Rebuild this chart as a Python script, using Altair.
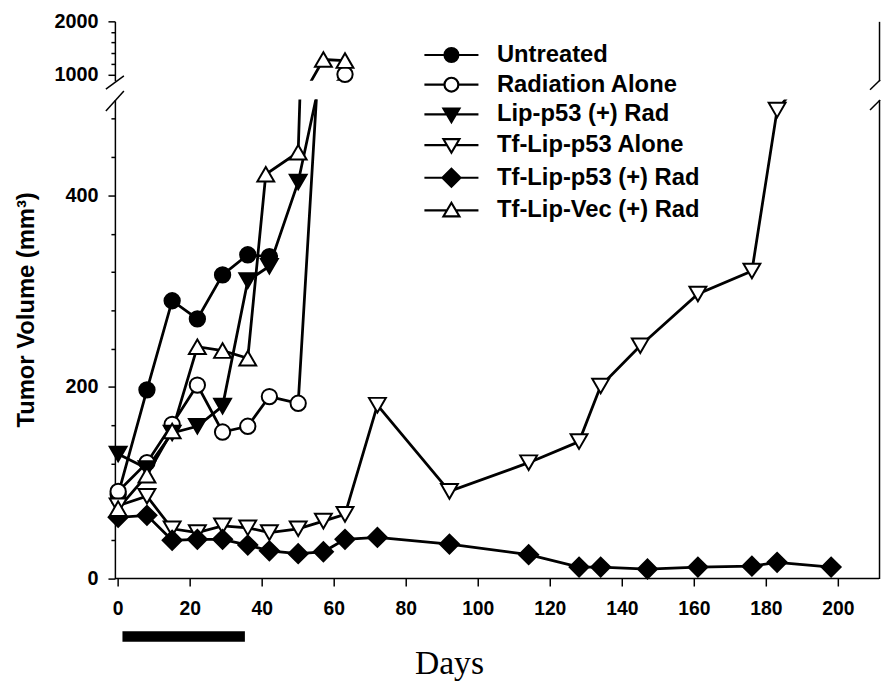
import altair as alt
import pandas as pd

# ---------------- data ----------------
names = ["Untreated", "Radiation Alone", "Lip-p53 (+) Rad",
         "Tf-Lip-p53 Alone", "Tf-Lip-p53 (+) Rad", "Tf-Lip-Vec (+) Rad"]

untreated_days = [0, 8, 15, 22, 29, 36, 42]
untreated_vol = [88, 197, 290, 271, 317, 338, 336]

radiation_days = [0, 8, 15, 22, 29, 36, 42, 50, 63]
radiation_vol = [91, 121, 161, 202, 153, 159, 190, 183, 1000]

lip_rad_days = [0, 8, 15, 22, 29, 36, 42, 50, 57]
lip_rad_vol = [130, 115, 152, 159, 180, 311, 326, 414, 537]

tf_alone_days = [0, 8, 15, 22, 29, 36, 42, 50, 57, 63, 72, 92, 114, 128, 134,
                 145, 161, 176, 183, 197]
tf_alone_vol = [76, 86, 52, 48, 55, 53, 48, 52, 60, 67, 181, 91, 121, 143, 201,
                243, 297, 321, 489, 555]

tf_rad_days = [0, 8, 15, 22, 29, 36, 42, 50, 57, 63, 72, 92, 114, 128, 134,
               147, 161, 176, 183, 198]
tf_rad_vol = [64, 66, 40, 41, 41, 35, 29, 26, 28, 41, 43, 36, 25, 12, 12,
              10, 12, 13, 17, 12]

vec_rad_days = [0, 8, 15, 22, 29, 36, 41, 50, 57, 63]
vec_rad_vol = [73, 108, 154, 242, 238, 230, 422, 445, 1280, 1260]

# treatment period bar (days)
treat_start = [1.2]
treat_end = [35.2]

x_ticks = list(range(0, 201, 20))
lower_ticks = list(range(0, 481, 40))
upper_ticks = list(range(1000, 2001, 200))
x_title = ["Days"]

all_days = [untreated_days, radiation_days, lip_rad_days, tf_alone_days, tf_rad_days, vec_rad_days]
all_vols = [untreated_vol, radiation_vol, lip_rad_vol, tf_alone_vol, tf_rad_vol, vec_rad_vol]

rows = []
for name, ds, vs in zip(names, all_days, all_vols):
    for i, (d, v) in enumerate(zip(ds, vs)):
        rows.append({"series": name, "day": d, "vol": v, "i": i})
df = pd.DataFrame(rows)

# ---------------- layout / style ----------------
XDOM = [-0.9, 211.3]
W = 772
H_UP = 60
H_LO = 484
UP_DOM = [880, 2000]
LO_DOM = [0, 500]
FONT = "Liberation Sans"

shapes = ["circle", "circle", "triangle-down", "triangle-down", "diamond", "triangle-up"]
fills = ["black", "white", "black", "white", "black", "white"]
sizes = [240, 240, 290, 290, 370, 290]
legend_paths = [
    "M-3.9,0H-1M1,0H3.9M-1,0A1,1,0,1,0,1,0A1,1,0,1,0,-1,0Z",
    "M-3.9,0H-1M1,0H3.9M-1,0A1,1,0,1,0,1,0A1,1,0,1,0,-1,0Z",
    "M-3.9,0H-0.65M0.65,0H3.9M-1.15,-0.85H1.15L0,1.1Z",
    "M-3.9,0H-0.65M0.65,0H3.9M-1.15,-0.85H1.15L0,1.1Z",
    "M-3.9,0H-1.3M1.3,0H3.9M0,-1.3L1.3,0L0,1.3L-1.3,0Z",
    "M-3.9,0H-0.65M0.65,0H3.9M-1.15,0.85H1.15L0,-1.1Z",
]

def xs():
    return alt.Scale(domain=XDOM, nice=False, zero=False)

def ys(dom):
    return alt.Scale(domain=dom, nice=False, zero=False)

axis_common = dict(domainColor="black", domainWidth=1.5, tickColor="black", tickWidth=1.5,
                   labelFont=FONT, labelFontWeight="bold", labelColor="black", grid=False)

right_axis = alt.Axis(orient="right", labels=False, ticks=False, title=None,
                      domainColor="black", domainWidth=1.5, grid=False)


def data_layers(ydom, yaxis, xaxis, pt_filter):
    base = alt.Chart(df)
    lines = base.mark_line(color="black", strokeWidth=2.8, clip=True).encode(
        x=alt.X("day:Q", scale=xs(), axis=xaxis),
        y=alt.Y("vol:Q", scale=ys(ydom), axis=yaxis),
        detail="series:N",
        order="i:Q",
    )
    pts = []
    for name, shp, fl, sz in zip(names, shapes, fills, sizes):
        pts.append(
            base.transform_filter(alt.datum.series == name).transform_filter(pt_filter).mark_point(
                shape=shp, fill=fl, filled=True, stroke="black", strokeWidth=2, size=sz, opacity=1
            ).encode(
                x=alt.X("day:Q", scale=xs(), axis=None),
                y=alt.Y("vol:Q", scale=ys(ydom), axis=None),
            )
        )
    right = base.transform_filter(pt_filter).mark_point(opacity=0, clip=True).encode(
        x=alt.X("day:Q", scale=xs(), axis=None),
        y=alt.Y("vol:Q", scale=ys(ydom), axis=right_axis),
    )
    return [lines] + pts + [right]


# ---------- upper panel (880-2000) ----------
up_yaxis = alt.Axis(orient="left", values=upper_ticks, format="d",
                    labelExpr="datum.value == 1000 || datum.value == 2000 ? datum.label : ''",
                    tickSize={"condition": {"test": "datum.value == 1000 || datum.value == 2000", "value": 7}, "value": 4},
                    labelFontSize=20, labelPadding=10, title=None, **axis_common)
up_xaxis = alt.Axis(orient="top", labels=False, ticks=False, title=None,
                    domainColor="black", domainWidth=1.5, grid=False)

u_layers = data_layers(UP_DOM, up_yaxis, up_xaxis, alt.datum.vol >= 880)

brk_up = pd.DataFrame({"x1": [-3.4, 208.8], "x2": [1.6, 211.6], "y1": [723, 710], "y2": [973, 893]})
u_brk = alt.Chart(brk_up).mark_rule(color="black", strokeWidth=1.5, clip=False).encode(
    x=alt.X("x1:Q", scale=xs(), axis=None), x2="x2:Q",
    y=alt.Y("y1:Q", scale=ys(UP_DOM), axis=None), y2="y2:Q",
)

leg = alt.Legend(orient="none", legendX=328, legendY=22, title=None,
                 labelFont=FONT, labelFontSize=24, labelFontWeight="bold", labelColor="black",
                 labelLimit=500, symbolSize=196, symbolStrokeWidth=2.2, symbolStrokeColor="black",
                 symbolOpacity=1, labelOffset=34, rowPadding=6, padding=0)
u_leg = alt.Chart(pd.DataFrame({"series": names})).transform_filter("false").mark_point(
    filled=True, strokeWidth=2.2
).encode(
    shape=alt.Shape("series:N", scale=alt.Scale(domain=names, range=legend_paths), legend=leg),
    fill=alt.Fill("series:N", scale=alt.Scale(domain=names, range=fills), legend=leg),
    stroke=alt.Stroke("series:N", scale=alt.Scale(domain=names, range=["black"] * len(names)), legend=leg),
)

upper = alt.layer(*u_layers, u_brk, u_leg).resolve_axis(y="independent").properties(
    width=W, height=H_UP)

# ---------- lower panel (0-500) ----------
lo_yaxis = alt.Axis(orient="left", values=lower_ticks, format="d",
                    labelExpr="datum.value % 200 === 0 ? datum.label : ''",
                    tickSize={"condition": {"test": "datum.value % 200 === 0", "value": 7}, "value": 4},
                    labelFontSize=20, labelPadding=10,
                    title="Tumor Volume (mm³)", titleFont=FONT, titleFontSize=24, titleFontWeight="bold",
                    titleColor="black", titleAngle=270, titleX=-82, titleY=212,
                    titleBaseline="alphabetic", titleAlign="center", **axis_common)

l_layers = data_layers(LO_DOM, lo_yaxis, None, alt.datum.vol <= 500)

# bottom day axis, drawn through the shared x scale
x_line = alt.Chart(pd.DataFrame({"lo": [XDOM[0]], "hi": [XDOM[1]]})).mark_rule(
    color="black", strokeWidth=1.5, clip=False
).encode(
    x=alt.X("lo:Q", scale=xs(), axis=None), x2="hi:Q", y=alt.value(H_LO),
)
tick_df = pd.DataFrame({"day": x_ticks})
x_tick = alt.Chart(tick_df).mark_rule(color="black", strokeWidth=1.5, clip=False).encode(
    x=alt.X("day:Q", scale=xs(), axis=None), y=alt.value(H_LO), y2=alt.value(H_LO + 8),
)
x_lab = alt.Chart(tick_df).mark_text(
    font=FONT, fontSize=19.5, fontWeight="bold", color="black", baseline="middle", align="center", clip=False
).encode(
    x=alt.X("day:Q", scale=xs(), axis=None), y=alt.value(H_LO + 31),
    text=alt.Text("day:Q", format="d"),
)
x_ttl = alt.Chart(pd.DataFrame({"t": x_title})).mark_text(
    font="Liberation Serif", fontSize=34, color="black", baseline="alphabetic", align="center", clip=False
).encode(
    x=alt.value(338), y=alt.value(H_LO + 96), text="t:N",
)

bar = alt.Chart(pd.DataFrame({"start": treat_start, "end": treat_end, "lo": [-55], "hi": [-66]})).mark_rect(
    color="black", clip=False
).encode(
    x=alt.X("start:Q", scale=xs(), axis=None), x2="end:Q",
    y=alt.Y("lo:Q", scale=ys(LO_DOM), axis=None), y2="hi:Q",
)

brk_lo = pd.DataFrame({"x1": [-3.4, 208.8], "x2": [1.6, 211.6], "y1": [488, 489], "y2": [509, 499.5]})
l_brk = alt.Chart(brk_lo).mark_rule(color="black", strokeWidth=1.5, clip=False).encode(
    x=alt.X("x1:Q", scale=xs(), axis=None), x2="x2:Q",
    y=alt.Y("y1:Q", scale=ys(LO_DOM), axis=None), y2="y2:Q",
)

lower = alt.layer(*l_layers, x_line, x_tick, x_lab, x_ttl, bar, l_brk).resolve_axis(
    y="independent").properties(width=W, height=H_LO)

chart = alt.vconcat(upper, lower, spacing=19, bounds="flush").resolve_scale(
    x="independent"
).resolve_axis(x="independent").resolve_legend(
    shape="independent", fill="independent", stroke="independent"
).properties(
    padding={"left": 7, "top": 0, "right": 0, "bottom": 0}, background="white"
).configure_view(stroke=None)

chart.save("out.html", embed_options={"renderer": "svg", "actions": False})
